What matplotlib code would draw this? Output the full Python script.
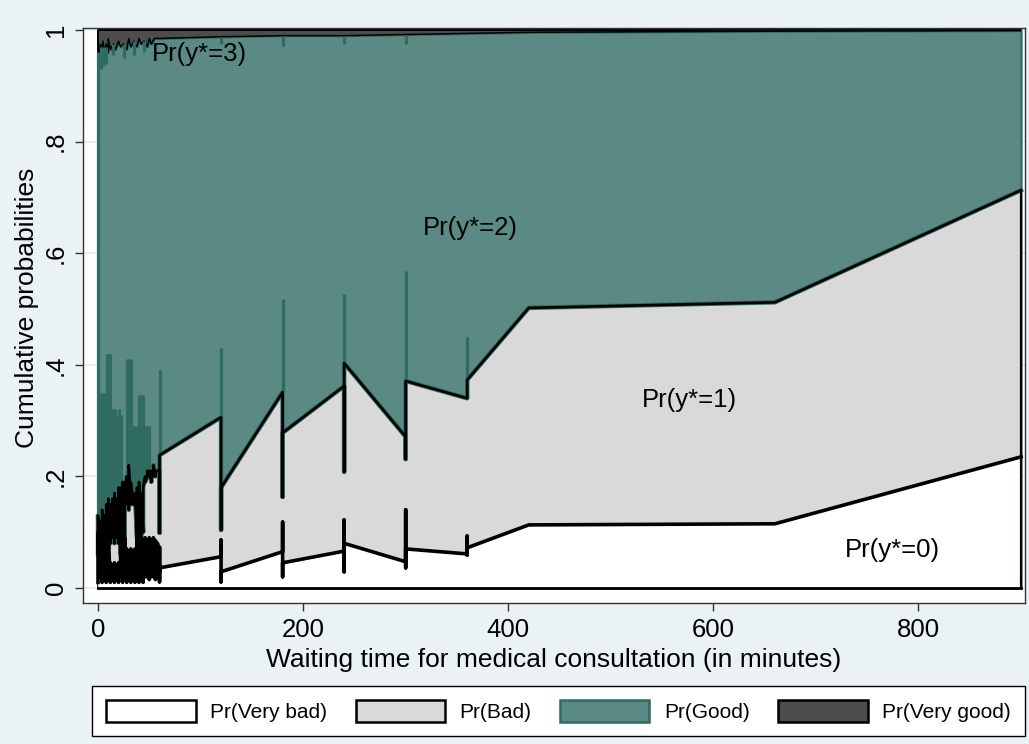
import matplotlib
matplotlib.use("Agg")
import matplotlib.pyplot as plt
from matplotlib.patches import Patch

plt.rcParams['font.family'] = ['Liberation Sans', 'DejaVu Sans']

# boundary Pr(Very bad) (white / grey), several observations per waiting time
c1_x = [0, 0, 2, 2, 4, 4, 6, 6, 8, 8, 10, 10, 12, 12, 14, 14, 16, 16, 18, 18,
        20, 20, 22, 22, 24, 24, 26, 26, 28, 28, 30, 30, 32, 32, 34, 34, 36, 36, 38, 38,
        40, 40, 42, 42, 44, 44, 46, 46, 48, 48, 50, 50, 52, 52, 54, 54, 56, 56, 58, 58,
        60, 60, 60, 60, 120, 120, 120, 120, 180, 180, 180, 180,
        240, 240, 240, 240, 300, 300, 300, 300, 360, 360, 360, 360, 420, 660, 900]
c1_y = [.01, .10, .02, .09, .01, .11, .02, .08, .01, .10, .02, .09, .01, .045, .02, .04, .01, .045, .02, .04,
        .01, .045, .02, .09, .01, .08, .02, .09, .01, .07, .02, .065, .01, .07, .02, .06, .01, .07, .02, .09,
        .01, .085, .02, .09, .01, .08, .02, .09, .02, .085, .015, .09, .02, .08, .02, .09, .015, .085, .02, .08,
        .029, .073, .011, .036, .056, .086, .011, .029, .065, .118, .020, .045,
        .066, .122, .029, .080, .047, .140, .036, .070, .061, .093, .059, .072, .113, .115, .235]

# boundary Pr(Bad) cumulative (grey / teal)
c2_x = [0, 0, 2, 2, 4, 4, 6, 6, 8, 8, 10, 10, 12, 12, 14, 14, 16, 16, 18, 18,
        20, 20, 22, 22, 24, 24, 26, 26, 28, 28, 30, 30, 32, 32, 34, 34, 36, 36, 38, 38,
        40, 40, 42, 42, 44, 44, 46, 46, 48, 48, 50, 50, 52, 52, 54, 54, 56, 56, 58, 58,
        60, 60, 60, 120, 120, 120, 180, 180, 180, 240, 240, 240, 300, 300, 300,
        360, 360, 420, 660, 900]
c2_y = [.06, .13, .05, .12, .07, .14, .05, .13, .06, .15, .07, .16, .08, .15, .09, .16, .08, .17, .09, .16,
        .08, .18, .06, .18, .07, .19, .06, .19, .15, .20, .14, .22, .15, .19, .16, .15, .15, .17, .09, .18,
        .08, .19, .09, .17, .10, .18, .20, .19, .20, .21, .20, .21, .19, .21, .20, .22, .20, .21, .21, .21,
        .208, .099, .238, .306, .104, .18, .351, .163, .278, .362, .208, .403, .271, .231, .371,
        .34, .373, .502, .512, .713]

# boundary Pr(Good) cumulative (teal / dark grey)
c3_x = [0, 0, 2, 3, 4, 5, 6, 8, 10, 10, 12, 15, 17, 20, 22, 25, 28, 30, 32, 35,
        38, 40, 42, 45, 48, 50, 52, 55, 60, 120, 180, 240, 300, 360, 420, 660, 900]
c3_y = [.96, .985, .95, .975, .955, .98, .96, .975, .96, .985, .965, .975, .965, .98, .97, .975, .965, .985, .97, .98,
        .97, .985, .975, .98, .97, .985, .975, .985, .985, .988, .99, .99, .992, .994, .996, .998, .999]

# dark teal spikes (several observations at the same waiting time)
spike_x = [0, 3, 5, 7, 9, 10, 12, 14, 15, 17, 18, 20, 22, 28, 30, 32, 34, 35, 37, 39,
           40, 42, 44, 46, 48, 50, 60, 120, 180, 240, 300, 360,
           3, 5, 8, 15, 25, 35, 45, 120, 180, 240, 300]
spike_lo = [.13, .14, .13, .15, .13, .16, .15, .14, .17, .16, .15, .18, .19, .17, .22, .16, .15, .17, .15, .17,
            .19, .15, .15, .18, .17, .21, .238, .306, .351, .403, .371, .373,
            .93, .935, .94, .955, .95, .955, .96, .975, .972, .975, .975]
spike_hi = [.96, .35, .35, .35, .42, .42, .42, .32, .32, .32, .31, .32, .31, .41, .41, .41, .29, .29, .29, .29,
            .345, .345, .345, .29, .29, .29, .39, .43, .518, .527, .568, .45,
            .97, .97, .97, .975, .975, .98, .98, .988, .99, .99, .992]

region_labels = ["Pr(y*=0)", "Pr(y*=1)", "Pr(y*=2)", "Pr(y*=3)"]
legend_labels = ["Pr(Very bad)", "Pr(Bad)", "Pr(Good)", "Pr(Very good)"]
xticks = [0, 200, 400, 600, 800]
yticks = [0, .2, .4, .6, .8, 1]
ytick_labels = ["0", ".2", ".4", ".6", ".8", "1"]

BG = "#eaf2f3"
GREY = "#d9d9d9"
TEAL = "#5a8a83"
DTEAL = "#2f6b60"
DGREY = "#4d4d4d"

fig = plt.figure(figsize=(10.29, 7.44), dpi=100)
fig.patch.set_facecolor(BG)
ax = fig.add_axes([0.0807, 0.1895, 0.9155, 0.7728])
ax.set_facecolor("white")
ax.set_xlim(-14.6, 904)
ax.set_ylim(-0.027, 1.0036)
ax.set_yticks(yticks)
ax.yaxis.grid(True, color="#e4eced", linewidth=1.2, zorder=0)
ax.set_axisbelow(True)

# stacked areas, top layer first
ax.fill_between([0, 900], 0, 1, facecolor=DGREY, edgecolor="black", linewidth=1.4, zorder=1)
ax.fill_between(c3_x, 0, c3_y, facecolor=TEAL, edgecolor=DTEAL, linewidth=1.6, zorder=2)
ax.plot(c3_x, c3_y, color="black", linewidth=1.1, zorder=2.5)
# spikes sit under the grey fill, so only the parts above it show
ax.vlines(spike_x, spike_lo, spike_hi, colors=DTEAL, linewidth=2.3, zorder=2.7)
ax.fill_between(c2_x, 0, c2_y, facecolor=GREY, edgecolor="black", linewidth=0, zorder=3)
ax.fill_between(c1_x, 0, c1_y, facecolor="white", edgecolor="black", linewidth=0, zorder=4)

ax.plot(c2_x, c2_y, color=DTEAL, linewidth=3.2, zorder=6)
ax.plot(c2_x, c2_y, color="black", linewidth=1.9, zorder=7)
ax.vlines([900], [c1_y[-1]], [c2_y[-1]], colors="black", linewidth=1.6, zorder=7)
ax.plot(c1_x, c1_y, color="black", linewidth=2.6, zorder=8)
ax.plot([0, 900], [0, 0], color="black", linewidth=2.0, zorder=8)
ax.vlines([900], [0], [c1_y[-1]], colors="black", linewidth=1.6, zorder=8)

label_pos = [(775, 0.068), (577, 0.337), (363, 0.645), (99, 0.957)]
for txt, (tx, ty) in zip(region_labels, label_pos):
    ax.text(tx, ty, txt, fontsize=18.5, ha="center", va="center", zorder=10)

ax.set_xticks(xticks)
ax.set_yticklabels(ytick_labels, rotation=90, va="center")
ax.tick_params(direction="out", length=6, width=1, color="#333333", labelsize=18.5, pad=5)
for s in ax.spines.values():
    s.set_color("#333333")
    s.set_linewidth(1)
ax.set_xlabel("Waiting time for medical consultation (in minutes)", fontsize=19, labelpad=4)
ax.set_ylabel("Cumulative probabilities", fontsize=19)
ax.yaxis.set_label_coords(-0.047, 0.513)

handles = [
    Patch(facecolor="white", edgecolor="black", linewidth=1.8),
    Patch(facecolor=GREY, edgecolor="black", linewidth=1.8),
    Patch(facecolor=TEAL, edgecolor=DTEAL, linewidth=1.8),
    Patch(facecolor=DGREY, edgecolor="black", linewidth=1.8),
]
leg = fig.legend(handles, legend_labels, loc="lower left",
                 bbox_to_anchor=(92 / 1029, 8 / 744, 933 / 1029, 49 / 744), mode="expand",
                 borderaxespad=0, ncol=4, fontsize=15, handlelength=4.3, handleheight=1.25,
                 handletextpad=0.7, borderpad=0.68, fancybox=False, edgecolor="black", framealpha=1)
leg.get_frame().set_linewidth(1)

fig.savefig("out.png", dpi=100, facecolor=BG)
